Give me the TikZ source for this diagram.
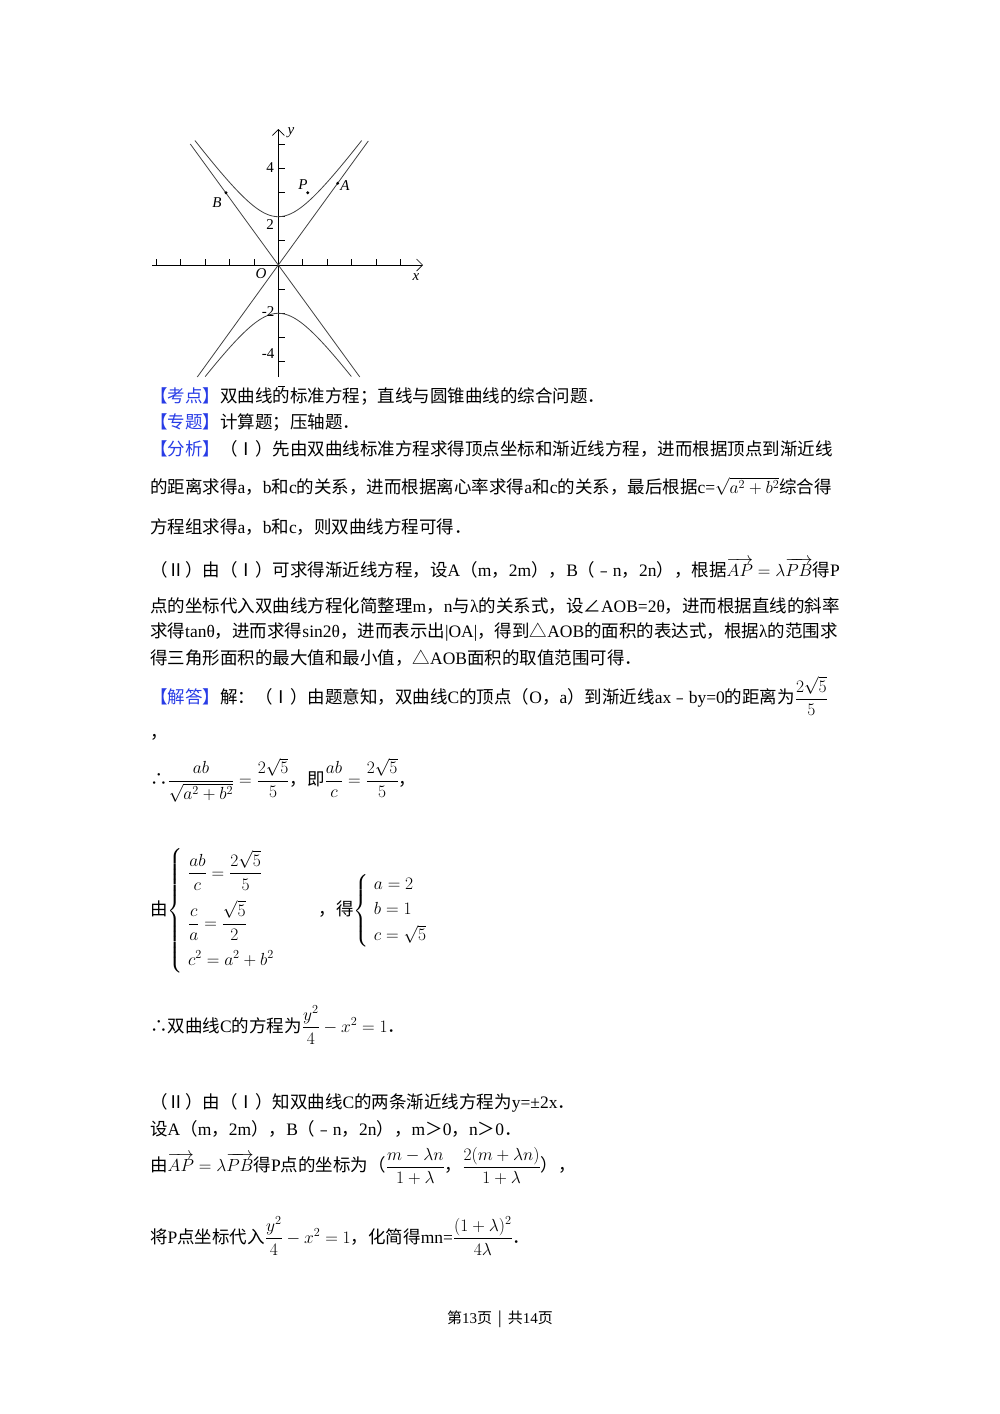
\RequirePackage{fix-cm}
\documentclass[tikz,border=0pt]{standalone}
\usepackage{amsmath}
\usepackage{fontspec}
\setmainfont{Noto Sans CJK SC}
\newfontfamily\lat{Liberation Serif}
\usetikzlibrary{arrows.meta}
\definecolor{kb}{RGB}{40,60,230}
\tikzset{txt/.style={anchor=west,inner sep=0pt,font=\fontsize{17.5}{21}\selectfont},
 lab/.style={inner sep=0pt,font=\fontsize{15}{15}\selectfont\lat},
 ilab/.style={inner sep=0pt,font=\fontsize{15}{15}\selectfont\lat\itshape},
 curve/.style={line width=0.8pt,black!75}}
\newcommand{\kb}[1]{{\color{kb}【#1】}}
\begin{document}
\begin{tikzpicture}[x=1pt,y=-1pt]
\useasboundingbox (0,0) rectangle (1000,1414);
% graph
\coordinate (O) at (278.3,265);
\draw[line width=0.7pt,-{Straight Barb[length=6pt]}] (152,265) -- (423,265);
\draw[line width=0.7pt,-{Straight Barb[length=6pt]}] (278.3,377) -- (278.3,129);
\foreach \k in {-5,-4,-3,-2,-1,1,2,3,4,5} \draw[line width=0.7pt] ({278.3+\k*24.4},265) -- ++(0,-6);
\foreach \k in {-5,-4,-3,-2,-1,1,2,3,4,5} \draw[line width=0.7pt] (278.3,{265-\k*24.2}) -- ++(7,0);
\draw[curve] (O) -- ++(-88,-121);
\draw[curve] (O) -- ++(81.5,112);
\draw[curve] (O) -- ++(90,-124);
\draw[curve] (O) -- ++(-81,112);
\draw[curve,domain=-1.6:1.6,samples=60,variable=\t] plot ({278.3+35.1*sinh(\t)},{265-48.3*cosh(\t)});
\draw[curve,domain=-1.48:1.48,samples=60,variable=\t] plot ({278.3+35.1*sinh(\t)},{265+48.3*cosh(\t)});
\fill (226,192.7) circle (1.6);
\node[ilab] (B) at (217,203) {B};
\fill (307.7,192.7) circle (1.6);
\node[ilab] (P) at (303,185) {P};
\fill (337.7,183.3) circle (1.6);
\node[ilab] (A) at (345,186) {A};
\node[lab] (l4) at (270,168) {4};
\node[lab] (l2) at (270,225) {2};
\node[lab] (lm2) at (268,312) {-2};
\node[lab] (lm4) at (268,354) {-4};
\node[ilab] (lO) at (261,274) {O};
\node[ilab] (lx) at (416,277) {x};
\node[ilab] (ly) at (291,133) {y};
% text
\node[txt] (t1) at (150,396) {\kb{考点}双曲线的标准方程；直线与圆锥曲线的综合问题．};
\node[txt] (t2) at (150,422) {\kb{专题}计算题；压轴题．};
\node[txt] (t3) at (150,449) {\kb{分析}（Ⅰ）先由双曲线标准方程求得顶点坐标和渐近线方程，进而根据顶点到渐近线};
\node[txt] (t4) at (150,486) {的距离求得{\lat a}，{\lat b}和{\lat c}的关系，进而根据离心率求得{\lat a}和{\lat c}的关系，最后根据{\lat c=}$\sqrt{a^2+b^2}$综合得};
\node[txt] (t5) at (150,527) {方程组求得{\lat a}，{\lat b}和{\lat c}，则双曲线方程可得．};
\node[txt] (t6) at (150,568) {（Ⅱ）由（Ⅰ）可求得渐近线方程，设{\lat A}（{\lat m}，{\lat 2m}），{\lat B}（﹣{\lat n}，{\lat 2n}），根据$\overrightarrow{AP}=\lambda\overrightarrow{PB}$得{\lat P}};
\node[txt] (t7) at (150,606) {点的坐标代入双曲线方程化简整理{\lat m}，{\lat n}与{\lat λ}的关系式，设∠{\lat AOB=2θ}，进而根据直线的斜率};
\node[txt] (t8) at (150,632) {求得{\lat tanθ}，进而求得{\lat sin2θ}，进而表示出{\lat |OA|}，得到△{\lat AOB}的面积的表达式，根据{\lat λ}的范围求};
\node[txt] (t9) at (150,658) {得三角形面积的最大值和最小值，△{\lat AOB}面积的取值范围可得．};
\node[txt] (t10) at (150,696) {\kb{解答}解：（Ⅰ）由题意知，双曲线{\lat C}的顶点（{\lat O}，{\lat a}）到渐近线{\lat ax}﹣{\lat by=0}的距离为$\dfrac{2\sqrt5}{5}$};
\node[txt] (t11) at (150,737) {，};
\node[txt] (t12) at (150,780) {∴$\dfrac{ab}{\sqrt{a^2+b^2}}=\dfrac{2\sqrt5}{5}$，即$\dfrac{ab}{c}=\dfrac{2\sqrt5}{5}$，};
\node[txt] (t13) at (150,911) {由$\left\{\begin{array}{l}\dfrac{ab}{c}=\dfrac{2\sqrt5}{5}\\[16pt] \dfrac{c}{a}=\dfrac{\sqrt5}{2}\\[16pt] c^2=a^2+b^2\end{array}\right.$\hspace{2.2em}，得$\left\{\begin{array}{l}a=2\\[4pt] b=1\\[4pt] c=\sqrt5\end{array}\right.$};
\node[txt] (t14) at (150,1025) {∴双曲线{\lat C}的方程为$\dfrac{y^2}{4}-x^2=1$．};
\node[txt] (t15) at (150,1103) {（Ⅱ）由（Ⅰ）知双曲线{\lat C}的两条渐近线方程为{\lat y=±2x}．};
\node[txt] (t16) at (150,1129) {设{\lat A}（{\lat m}，{\lat 2m}），{\lat B}（﹣{\lat n}，{\lat 2n}），{\lat m}＞{\lat 0}，{\lat n}＞{\lat 0}．};
\node[txt] (t17) at (150,1166) {由$\overrightarrow{AP}=\lambda\overrightarrow{PB}$得{\lat P}点的坐标为（$\dfrac{m-\lambda n}{1+\lambda}$，$\dfrac{2(m+\lambda n)}{1+\lambda}$），};
\node[txt] (t18) at (150,1236) {将{\lat P}点坐标代入$\dfrac{y^2}{4}-x^2=1$，化简得{\lat mn=}$\dfrac{(1+\lambda)^2}{4\lambda}$．};
\node[inner sep=0pt,font=\fontsize{15}{15}\selectfont] (ft) at (500,1319) {第{\lat 13}页 \,|\, 共{\lat 14}页};
\end{tikzpicture}
\end{document}
